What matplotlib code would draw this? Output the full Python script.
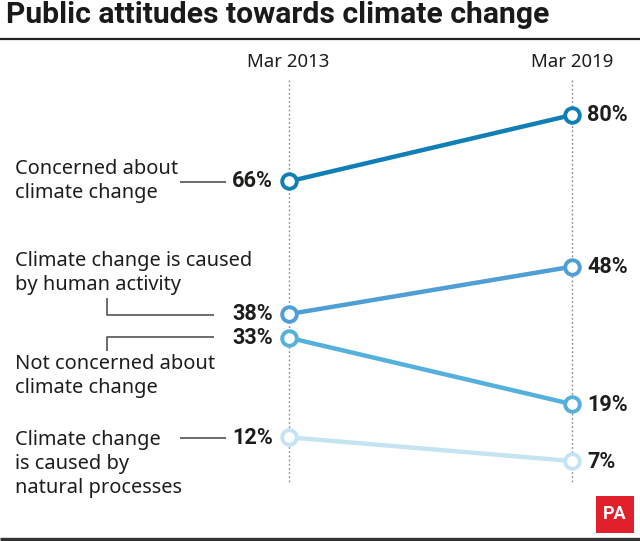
import matplotlib
matplotlib.use("Agg")
import matplotlib.pyplot as plt
from matplotlib.lines import Line2D
from matplotlib.patches import Rectangle

W, H = 640, 541

titulo = "Public attitudes towards climate change"
anos = ["Mar 2013", "Mar 2019"]
series = ["Concerned", "Human", "Not concerned", "Natural"]
inicio = [66, 38, 33, 12]
fim = [80, 48, 19, 7]
cores = ["#0f7fb5", "#4f9fd6", "#56b0dc", "#c5e4f3"]

plt.rcParams["font.family"] = ["Noto Sans", "DejaVu Sans"]
TXT = "#1d1d1b"
NEGRITO = ["Roboto", "Open Sans", "DejaVu Sans"]

fig = plt.figure(figsize=(W / 100, H / 100), dpi=100, facecolor="white")
ax = fig.add_axes([0, 0, 1, 1])
ax.axis("off")

# x=0 fica em 289px, x=1 em 572px; 80% em 115px, 4.74px por ponto
esc_x = 283
esc_y = 4.74
ax.set_xlim(-289 / esc_x, (W - 289) / esc_x)
ax.set_ylim(80 - (H - 115) / esc_y, 80 + 115 / esc_y)


def px(x, y):
    return x / W, 1 - y / H


def linha(xs, ys, lw=1.1, cor="#444444"):
    fig.add_artist(Line2D([x / W for x in xs], [1 - y / H for y in ys],
                          color=cor, lw=lw, solid_capstyle="butt"))


def texto(x, y, s, **kw):
    kw.setdefault("fontsize", 14.4)
    kw.setdefault("color", TXT)
    kw.setdefault("va", "center")
    fig.text(*px(x, y), s, **kw)


# linhas verticais pontilhadas
for x in [0, 1]:
    ax.plot([x, x], [80 + (115 - 80) / esc_y, 80 - (483 - 115) / esc_y],
            color="#8a8a8a", lw=1, ls=(0, (1.2, 1.8)), zorder=1)

for a, b, c in zip(inicio, fim, cores):
    ax.plot([0, 1], [a, b], color=c, lw=3.2, zorder=2,
            marker="o", ms=10.5, mfc="white", mec=c, mew=2.8)

# titulo e regras
texto(6, 15, titulo, fontsize=21.7, fontweight="bold", color="#1a1a1a", family=NEGRITO)
linha([0, W], [38.5, 38.5], lw=1.6, cor="#222222")
linha([0, W], [539, 539], lw=2.4, cor="#333333")

texto(288, 62, anos[0], ha="center", fontsize=13.4)
texto(572, 62, anos[1], ha="center", fontsize=13.4)

# valores
for v, y in zip(inicio, [181, 314, 338, 438]):
    texto(232, y, f"{v}%", fontweight="bold", fontsize=15.6, family=NEGRITO)
for v, y in zip(fim, [115, 267, 405, 462]):
    texto(587, y, f"{v}%", fontweight="bold", fontsize=15.6, family=NEGRITO)

# rotulos da esquerda
texto(15, 181, "Concerned about\nclimate change", linespacing=1.27)
texto(15, 273, "Climate change is caused\nby human activity", linespacing=1.27)
texto(15, 376, "Not concerned about\nclimate change", linespacing=1.27)
texto(15, 464, "Climate change\nis caused by\nnatural processes", linespacing=1.27)

# ligacoes
linha([180, 226], [182, 182])
linha([180, 226], [438, 438])
linha([107, 107, 214], [298, 314.5, 314.5])
linha([107, 107, 214], [351, 337, 337])

# logo PA
fig.add_artist(Rectangle(px(596, 533), 38 / W, 37 / H, transform=fig.transFigure,
                         facecolor="#e2202c", edgecolor="none"))
texto(615, 514, "PA", ha="center", color="white", fontweight="bold", fontsize=13, family=NEGRITO)

fig.savefig("out.png", dpi=100)
